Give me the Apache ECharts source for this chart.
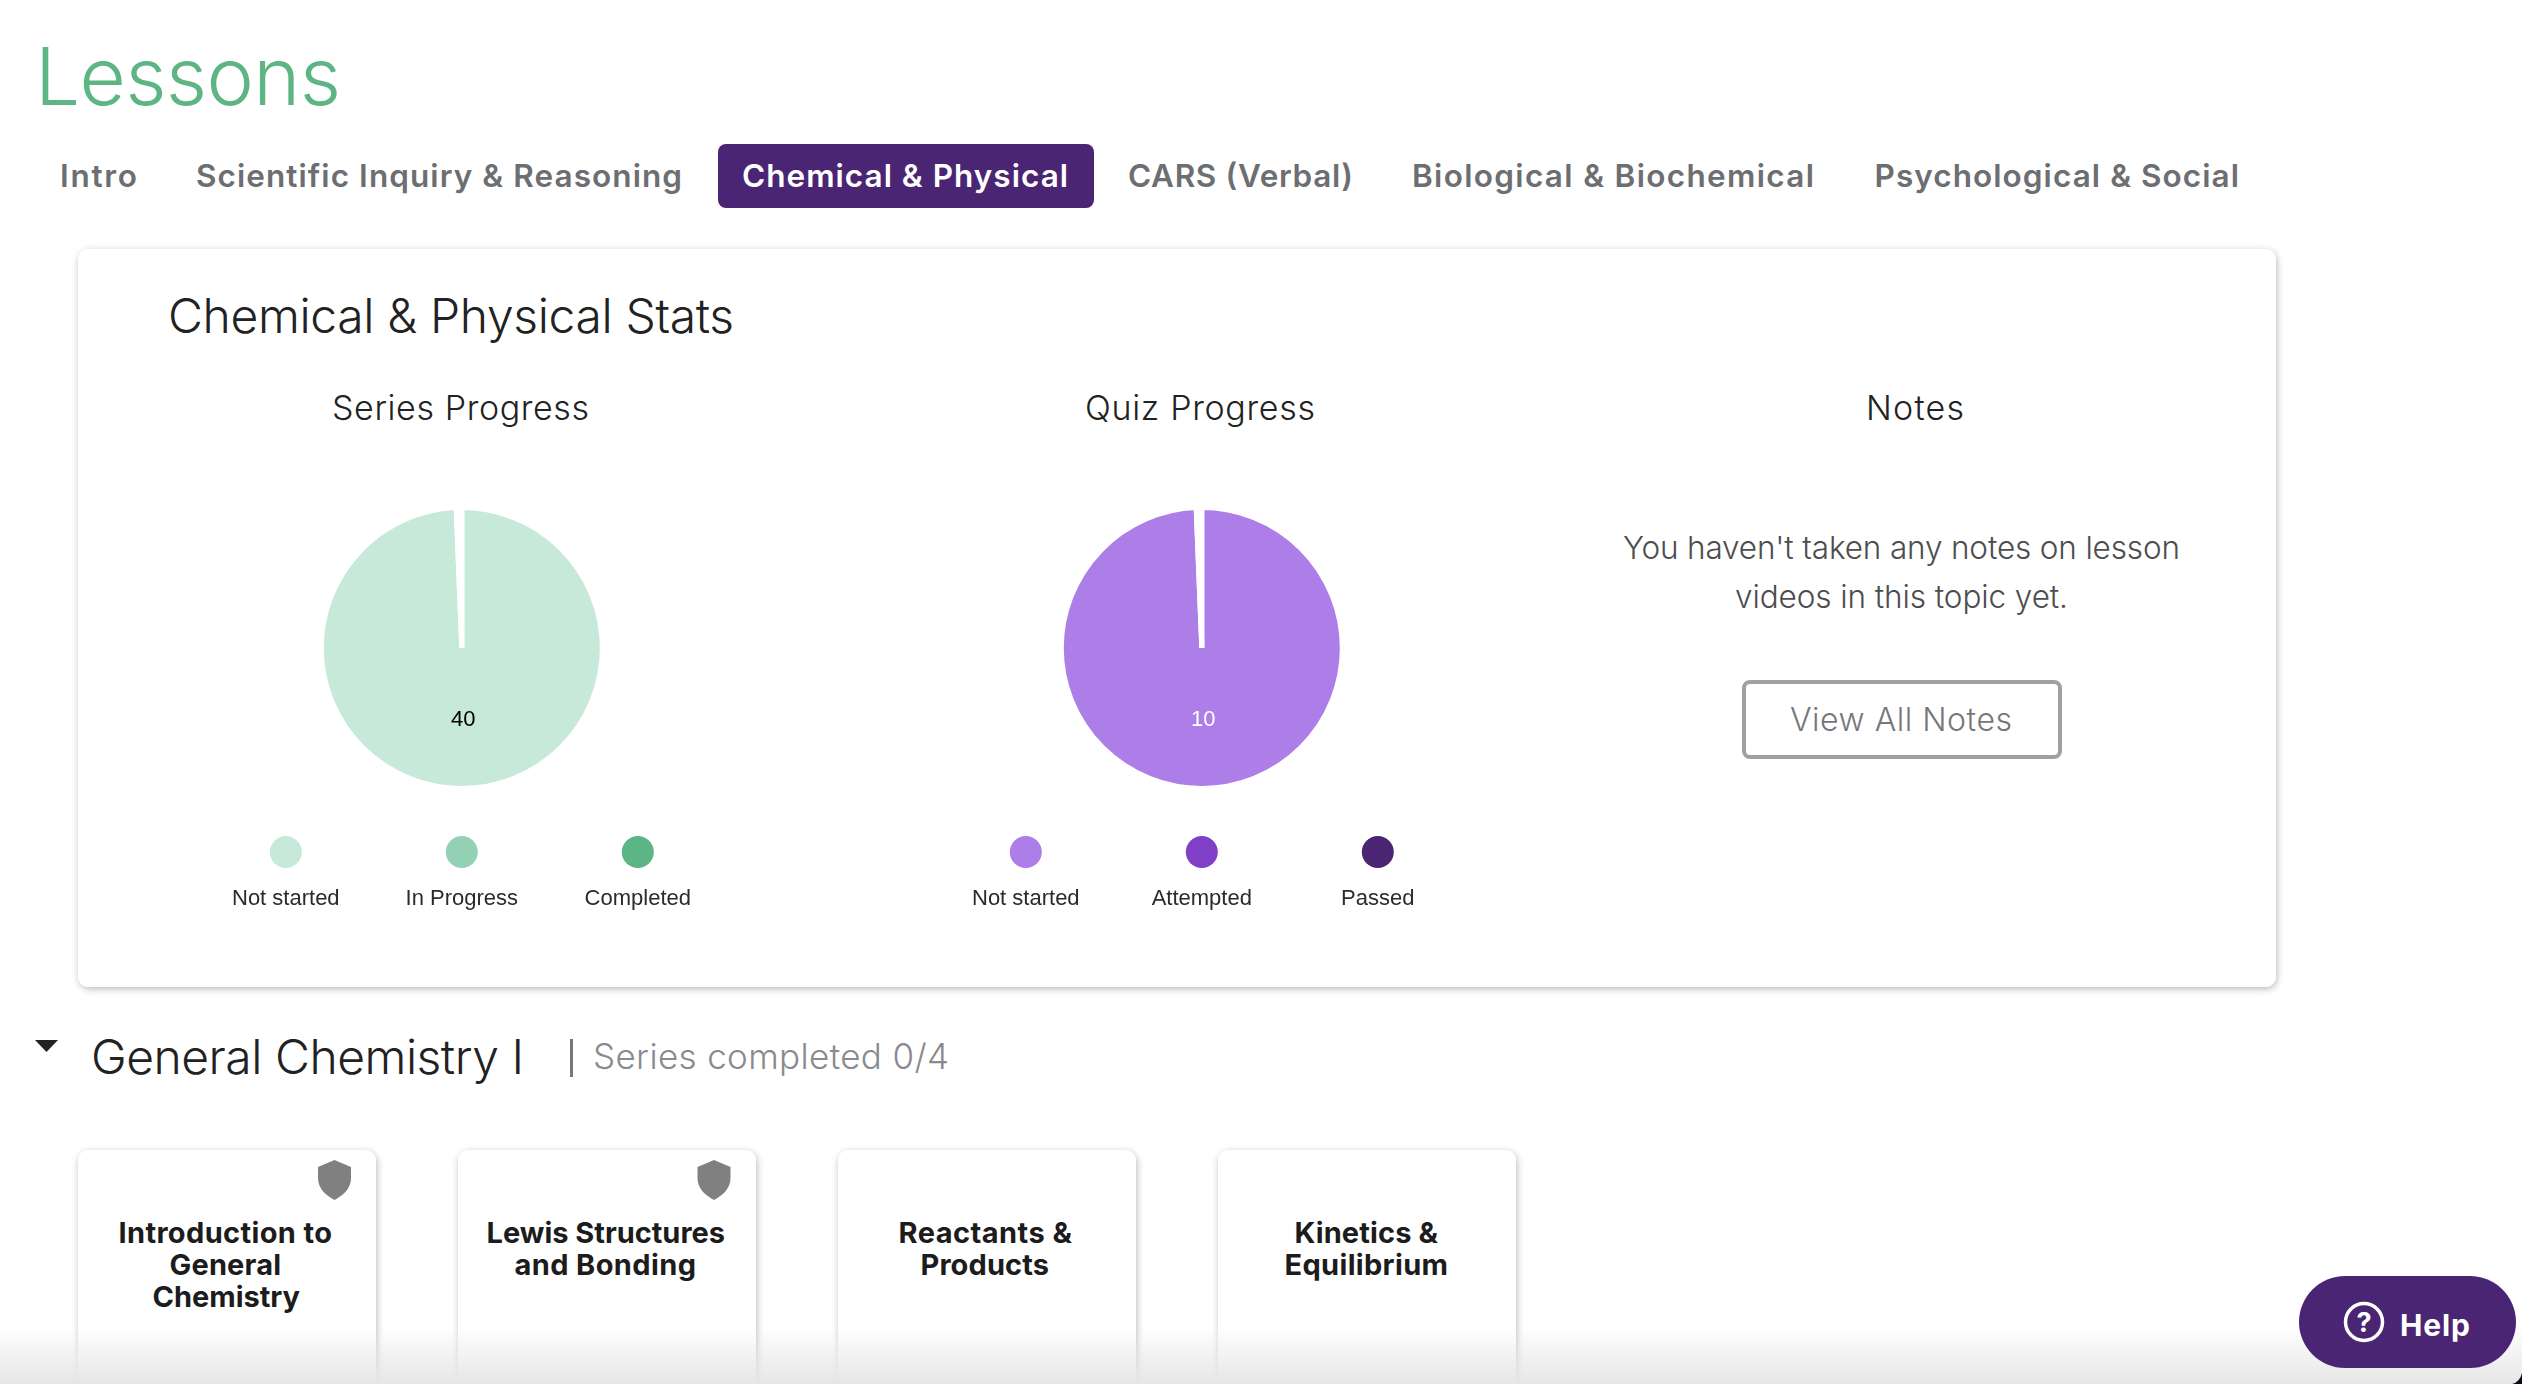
<!DOCTYPE html>
<html>
<head>
<meta charset="utf-8">
<title>Lessons</title>
<script src="https://cdn.jsdelivr.net/npm/echarts@6/dist/echarts.min.js"></script>
<style>
  html, body { margin: 0; padding: 0; background: #fff; overflow: hidden; }
  #page, #chart { position: absolute; left: 0; top: 0; width: 2522px; height: 1384px; }
  text { font-family: Inter, Lato, sans-serif; }
  .tab { font-size: 31.5px; font-weight: 600; fill: #6d6e71; }
  .card { fill: #fff; filter: url(#shadow); }
  .dark { fill: #222; }
  .cardTitle { font-size: 29px; font-weight: 700; fill: #1c1c1c; text-anchor: start; }
</style>
</head>
<body>
<svg id="page" viewBox="0 0 2522 1384" xmlns="http://www.w3.org/2000/svg">
  <defs>
    <filter id="shadow" x="-5%" y="-5%" width="110%" height="110%">
      <feDropShadow dx="1" dy="2" stdDeviation="3.5" flood-color="#000" flood-opacity="0.28"/>
    </filter>
    <linearGradient id="fade" x1="0" y1="0" x2="0" y2="1">
      <stop offset="0" stop-color="#e6e6e6" stop-opacity="0"/>
      <stop offset="1" stop-color="#e6e6e6" stop-opacity="1"/>
    </linearGradient>
  </defs>

  <text x="35" y="105" textLength="306" font-size="80" font-weight="350" fill="#5db584">Lessons</text>

  <text class="tab" x="60" y="186.5" textLength="77">Intro</text>
  <text class="tab" x="196" y="186.5" textLength="486">Scientific Inquiry &amp; Reasoning</text>
  <rect x="718" y="144" width="376" height="64" rx="8" fill="#4a2574"/>
  <text class="tab" x="742" y="186.5" textLength="326" style="fill:#fff">Chemical &amp; Physical</text>
  <text class="tab" x="1128" y="186.5" textLength="225">CARS (Verbal)</text>
  <text class="tab" x="1412" y="186.5" textLength="402">Biological &amp; Biochemical</text>
  <text class="tab" x="1874.5" y="186.5" textLength="364.5">Psychological &amp; Social</text>

  <rect class="card" x="78" y="249" width="2198" height="738" rx="11"/>
  <text class="dark" x="168" y="333" textLength="566" font-size="48" font-weight="350">Chemical &amp; Physical Stats</text>
  <text class="dark" x="332" y="420" textLength="257" font-size="34" font-weight="350">Series Progress</text>
  <text class="dark" x="1085" y="420" textLength="230" font-size="34" font-weight="350">Quiz Progress</text>
  <text class="dark" x="1866" y="420" textLength="98" font-size="34" font-weight="350">Notes</text>

  <text x="1623" y="558.5" textLength="557" font-size="31.5" font-weight="350" fill="#4d4d4f">You haven't taken any notes on lesson</text>
  <text x="1735" y="607.5" textLength="333" font-size="31.5" font-weight="350" fill="#4d4d4f">videos in this topic yet.</text>
  <rect x="1744" y="682" width="316" height="75" rx="6" fill="#fff" stroke="#a0a0a4" stroke-width="4"/>
  <text x="1790" y="731" textLength="222" font-size="32" font-weight="350" fill="#77777b">View All Notes</text>

  <polygon points="35,1040 58,1040 46.5,1052" fill="#222"/>
  <text class="dark" x="91" y="1074" textLength="433" font-size="48" font-weight="350">General Chemistry I</text>
  <rect x="570" y="1039" width="3" height="38" fill="#77777b"/>
  <text x="593" y="1069" textLength="356" font-size="35" font-weight="350" fill="#8a8a8d">Series completed 0/4</text>

  <rect class="card" x="78" y="1150" width="298" height="300" rx="11"/>
  <rect class="card" x="458" y="1150" width="298" height="300" rx="11"/>
  <rect class="card" x="838" y="1150" width="298" height="300" rx="11"/>
  <rect class="card" x="1218" y="1150" width="298" height="300" rx="11"/>

  <path d="M334.5 1160 L351 1167 L351 1178 C351 1188 344 1195 334.5 1200 C325 1195 318 1188 318 1178 L318 1167 Z" fill="#808080"/>
  <path d="M714 1160 L730.5 1167 L730.5 1178 C730.5 1188 723.5 1195 714 1200 C704.5 1195 697.5 1188 697.5 1178 L697.5 1167 Z" fill="#808080"/>

  <text class="cardTitle" x="118.5" y="1243" textLength="213.5">Introduction to</text>
  <text class="cardTitle" x="169.5" y="1275" textLength="111.5">General</text>
  <text class="cardTitle" x="152.5" y="1307" textLength="147.5">Chemistry</text>
  <text class="cardTitle" x="486.5" y="1243" textLength="238.5">Lewis Structures</text>
  <text class="cardTitle" x="514.5" y="1275" textLength="181.5">and Bonding</text>
  <text class="cardTitle" x="898.5" y="1243" textLength="173.5">Reactants &amp;</text>
  <text class="cardTitle" x="920.5" y="1275" textLength="128.5">Products</text>
  <text class="cardTitle" x="1294.5" y="1243" textLength="143.5">Kinetics &amp;</text>
  <text class="cardTitle" x="1284.5" y="1275" textLength="163.5">Equilibrium</text>

  <rect x="0" y="1327" width="2522" height="57" fill="url(#fade)"/>

  <rect x="2299" y="1276" width="217" height="92" rx="46" fill="#4a2574"/>
  <circle cx="2364" cy="1322" r="18.5" fill="none" stroke="#fff" stroke-width="3.5"/>
  <text x="2364" y="1332" text-anchor="middle" font-size="27" font-weight="700" fill="#fff">?</text>
  <text x="2400" y="1336" textLength="70" font-size="30" font-weight="700" fill="#fff">Help</text>
  <path d="M2512 1384 Q2520 1382 2522 1373 L2522 1384 Z" fill="#0d0a1a"/>
</svg>
<div id="chart"></div>

<script>
  const seriesNames = ['Not started', 'In Progress', 'Completed']
  const seriesValues = [40, 0, 0]
  const seriesColors = ['#c7e9da', '#93d1b4', '#5cb585']

  const quizNames = ['Not started', 'Attempted', 'Passed']
  const quizValues = [10, 0, 0]
  const quizColors = ['#ad7de8', '#7f3fc7', '#4a2574']

  const labelFont = '"Liberation Sans", Arial, sans-serif'

  function pieSeries(names, values, colors, cx, labelColor) {
    return {
      type: 'pie',
      silent: true,
      animation: false,
      center: [cx, 648],
      radius: 140.5,
      clockwise: true,
      startAngle: 90,
      minAngle: 1.15,
      avoidLabelOverlap: false,
      itemStyle: { borderColor: '#fff', borderWidth: 5, borderJoin: 'bevel' },
      label: {
        position: 'inside',
        color: labelColor,
        fontFamily: labelFont,
        fontSize: 22,
        offset: [0, -1],
        formatter: p => p.value ? String(p.value) : ''
      },
      labelLine: { show: false },
      data: names.map((name, i) => ({
        name,
        value: values[i],
        itemStyle: { color: values[i] ? colors[i] : '#fff' }
      }))
    }
  }

  // legend dots sit above their text, which the built-in legend can't do
  function legendKeys(names, colors, cx) {
    const items = []
    names.forEach((name, i) => {
      const x = cx + (i - 1) * 176
      items.push({
        type: 'circle',
        silent: true,
        shape: { cx: x, cy: 852, r: 16 },
        style: { fill: colors[i] }
      })
      items.push({
        type: 'text',
        silent: true,
        x: x,
        y: 899,
        style: {
          text: name,
          fill: '#2b2b2b',
          font: '22px ' + labelFont,
          textAlign: 'center',
          textVerticalAlign: 'middle'
        }
      })
    })
    return items
  }

  const myChart = echarts.init(document.getElementById('chart'))
  myChart.setOption({
    backgroundColor: 'transparent',
    series: [
      pieSeries(seriesNames, seriesValues, seriesColors, 461.8, '#000'),
      pieSeries(quizNames, quizValues, quizColors, 1201.8, '#fff')
    ],
    graphic: legendKeys(seriesNames, seriesColors, 461.8).concat(legendKeys(quizNames, quizColors, 1201.8))
  })
</script>
</body>
</html>
